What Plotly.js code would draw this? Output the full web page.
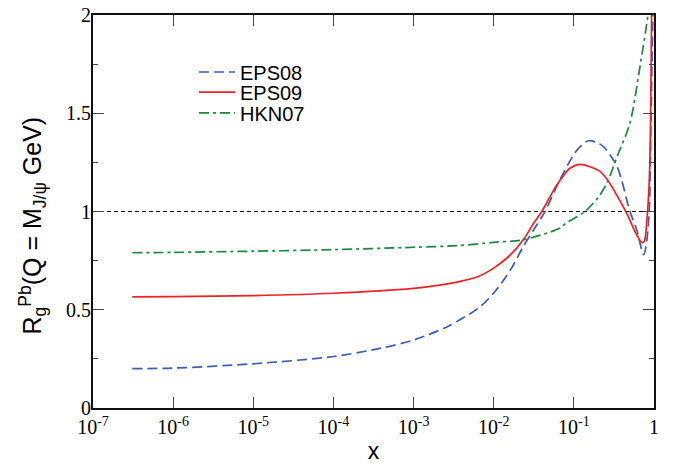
<!DOCTYPE html>
<html>
<head>
<meta charset="utf-8">
<script src="https://cdn.plot.ly/plotly-3.0.1.min.js"></script>
<style>html,body{margin:0;padding:0;background:#fff}#chart{width:681px;height:464px}</style>
</head>
<body>
<div id="chart"></div>
<script>
// EPS08 (blue dashed)
const eps08X = [3.09e-7, 1e-6, 1e-5, 1e-4, 3.98e-4, 1e-3, 2.63e-3, 6.46e-3, 0.01, 0.0162, 0.0234, 0.0316, 0.0437, 0.0676, 0.1096, 0.1514, 0.1905, 0.2344, 0.347, 0.501, 0.610, 0.741, 0.794, 0.871, 0.912, 0.966, 0.989];
const eps08Y = [0.200, 0.203, 0.225, 0.262, 0.305, 0.346, 0.414, 0.509, 0.585, 0.703, 0.822, 0.907, 1.000, 1.165, 1.313, 1.360, 1.352, 1.330, 1.228, 1.000, 0.906, 0.780, 0.820, 1.000, 1.400, 2.000, 2.300];
// EPS09 (red solid)
const eps09X = [3.09e-7, 1e-6, 1e-5, 1e-4, 1e-3, 2.0e-3, 3.80e-3, 6.31e-3, 0.01, 0.0162, 0.0234, 0.0316, 0.0398, 0.0562, 0.0676, 0.0891, 0.1175, 0.1585, 0.2138, 0.263, 0.316, 0.457, 0.610, 0.708, 0.759, 0.813, 0.871, 0.902, 0.933, 0.955];
const eps09Y = [0.566, 0.567, 0.572, 0.584, 0.609, 0.624, 0.644, 0.668, 0.712, 0.780, 0.856, 0.941, 1.000, 1.110, 1.160, 1.220, 1.240, 1.228, 1.203, 1.160, 1.109, 0.990, 0.880, 0.842, 0.850, 0.950, 1.150, 1.400, 2.000, 2.300];
// HKN07 (green dash-dot)
const hknX = [3.09e-7, 1e-6, 1e-5, 1e-4, 1e-3, 3.80e-3, 0.01, 0.0234, 0.0501, 0.0676, 0.0794, 0.138, 0.1995, 0.257, 0.355, 0.501, 0.676, 0.841, 0.891];
const hknY = [0.790, 0.792, 0.798, 0.806, 0.818, 0.827, 0.843, 0.856, 0.895, 0.916, 0.940, 1.000, 1.070, 1.143, 1.290, 1.450, 1.750, 2.000, 2.100];

const xTickVals = [1e-7, 1e-6, 1e-5, 1e-4, 1e-3, 1e-2, 1e-1, 1];
const xTickText = ['10<sup>-7</sup>', '10<sup>-6</sup>', '10<sup>-5</sup>', '10<sup>-4</sup>', '10<sup>-3</sup>', '10<sup>-2</sup>', '10<sup>-1</sup>', '1'];
const yTickVals = [0, 0.5, 1, 1.5, 2];
const yTickText = ['0', '0.5', '1', '1.5', '2'];
const yTitle = 'R<sub>g</sub><sup>Pb</sup>(Q = M<sub>J/ψ</sub> GeV)';

const traces = [
  {x: eps08X, y: eps08Y, name: 'EPS08', type: 'scatter', mode: 'lines', legend: 'legend',
   line: {color: '#3f5cb8', width: 1.7, dash: '10px,5px', shape: 'spline', smoothing: 0.8}},
  {x: eps09X, y: eps09Y, name: 'EPS09', type: 'scatter', mode: 'lines', legend: 'legend2',
   line: {color: '#ee2222', width: 1.7, shape: 'spline', smoothing: 0.8}},
  {x: hknX, y: hknY, name: 'HKN07', type: 'scatter', mode: 'lines', legend: 'legend3',
   line: {color: '#1a8a3c', width: 1.7, dash: '10px,4px,3px,4px', shape: 'spline', smoothing: 0.8}}
];

const serif = 'Liberation Serif, Times New Roman, serif';
const sans = 'Liberation Sans, Arial, sans-serif';
const legFont = {family: sans, size: 20, color: '#000'};
const legBase = {x: 0.18, xanchor: 'left', yanchor: 'middle', bgcolor: 'rgba(0,0,0,0)', font: legFont, itemwidth: 36};

const layout = {
  width: 681, height: 464,
  margin: {l: 92.5, r: 27, t: 15, b: 56},
  paper_bgcolor: '#fff', plot_bgcolor: '#fff',
  showlegend: true,
  legend: Object.assign({}, legBase, {y: 0.855}),
  legend2: Object.assign({}, legBase, {y: 0.804}),
  legend3: Object.assign({}, legBase, {y: 0.751}),
  xaxis: {type: 'log', range: [-7, 0], tickvals: xTickVals, ticktext: xTickText,
          ticks: 'inside', ticklen: 11, tickwidth: 1.2, tickcolor: '#444',
          showline: true, linecolor: '#111', linewidth: 2, mirror: 'ticks',
          showgrid: false, zeroline: false,
          tickfont: {family: serif, size: 20, color: '#000'},
          title: {text: 'x', font: {family: sans, size: 23, color: '#000'}, standoff: 7}},
  yaxis: {range: [0, 2], tickvals: yTickVals, ticktext: yTickText,
          ticks: 'inside', ticklen: 11, tickwidth: 1.2, tickcolor: '#444',
          ticklabelstandoff: -4,
          minor: {dtick: 0.25, ticks: 'inside', ticklen: 5, tickwidth: 1.2, tickcolor: '#444', showgrid: false},
          showline: true, linecolor: '#111', linewidth: 2, mirror: 'ticks',
          showgrid: false, zeroline: false,
          tickfont: {family: serif, size: 20, color: '#000'}},
  annotations: [{text: yTitle, textangle: -90, xref: 'paper', yref: 'paper', x: 0, y: 0.5,
                 xanchor: 'center', yanchor: 'middle', xshift: -61, yshift: -14, showarrow: false,
                 font: {family: sans, size: 25, color: '#000'}}],
  shapes: [{type: 'line', xref: 'paper', x0: 0, x1: 1, yref: 'y', y0: 1, y1: 1,
            line: {color: '#000', width: 1, dash: '4px,3px'}, layer: 'below'}]
};

Plotly.newPlot('chart', traces, layout, {displayModeBar: false, staticPlot: true});
</script>
</body>
</html>
